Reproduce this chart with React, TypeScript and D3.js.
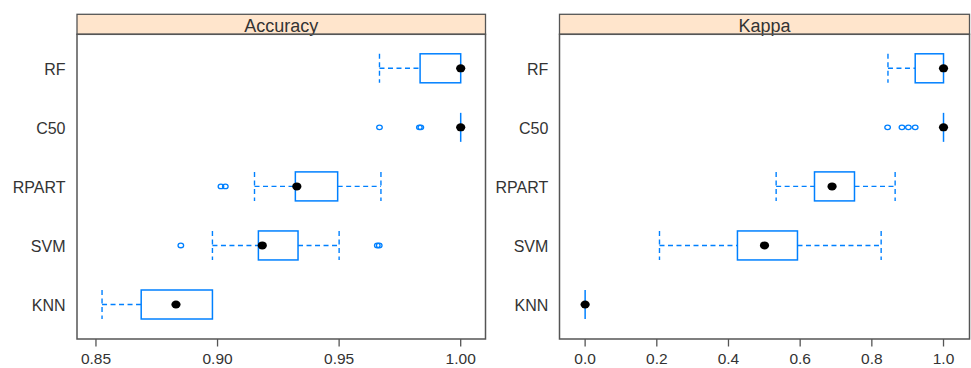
import React from "react";
import * as d3 from "d3";

const models = ["RF", "C50", "RPART", "SVM", "KNN"];

// box stats: [lowerWhisker, q1, median, q3, upperWhisker]
const accuracyStats: number[][] = [
  [0.9666, 0.9833, 1.0, 1.0, 1.0],
  [1.0, 1.0, 1.0, 1.0, 1.0],
  [0.9152, 0.932, 0.9326, 0.9494, 0.9672],
  [0.8979, 0.9168, 0.9184, 0.9331, 0.95],
  [0.8525, 0.8686, 0.8829, 0.8979, 0.8979],
];
const accuracyOutliers: number[][] = [
  [],
  [0.9666, 0.9830, 0.9836],
  [0.9014, 0.9032],
  [0.8849, 0.9657, 0.9665],
  [],
];

const kappaStats: number[][] = [
  [0.845, 0.921, 1.0, 1.0, 1.0],
  [1.0, 1.0, 1.0, 1.0, 1.0],
  [0.533, 0.64, 0.689, 0.7516, 0.865],
  [0.2075, 0.425, 0.5005, 0.5925, 0.826],
  [0.0, 0.0, 0.0, 0.0, 0.0],
];
const kappaOutliers: number[][] = [
  [],
  [0.844, 0.884, 0.902, 0.921],
  [],
  [],
  [],
];

const accuracyTicks = [0.85, 0.9, 0.95, 1.0];
const accuracyTickLabels = ["0.85", "0.90", "0.95", "1.00"];
const kappaTicks = [0, 0.2, 0.4, 0.6, 0.8, 1.0];
const kappaTickLabels = ["0.0", "0.2", "0.4", "0.6", "0.8", "1.0"];

const BLUE = "#0080ff";
const BORDER = "#555";
const TEXT = "#333";
const FONT = "'Liberation Sans', Arial, sans-serif";

type PanelProps = {
  title: string;
  stats: number[][];
  outliers: number[][];
  ticks: number[];
  tickLabels: string[];
  domain: [number, number];
  x0: number;
  x1: number;
  labelX: number;
};

const TOP = 14.3;
const STRIP_BOTTOM = 34.3;
const BOTTOM = 339;
const HALF = 14.5;

function Panel({ title, stats, outliers, ticks, tickLabels, domain, x0, x1, labelX }: PanelProps) {
  const x = d3.scaleLinear().domain(domain).range([x0, x1]);
  const y = d3.scalePoint<string>().domain(models).range([68.3, 304.5]);
  return (
    <g>
      {/* strip */}
      <rect x={x0} y={TOP} width={x1 - x0} height={STRIP_BOTTOM - TOP} fill="#ffe5cc" stroke={BORDER} strokeWidth={1.3} />
      <text x={(x0 + x1) / 2} y={31.5} textAnchor="middle" fontSize={18} fontFamily={FONT} fill={TEXT}>
        {title}
      </text>
      {/* panel */}
      <rect x={x0} y={STRIP_BOTTOM} width={x1 - x0} height={BOTTOM - STRIP_BOTTOM} fill="none" stroke={BORDER} strokeWidth={1.5} />
      {/* y labels */}
      {models.map((m) => (
        <text key={m} x={labelX} y={(y(m) as number) + 6.8} textAnchor="end" fontSize={16} fontFamily={FONT} fill={TEXT}>
          {m}
        </text>
      ))}
      {/* x ticks */}
      {ticks.map((t, i) => (
        <g key={t}>
          <line x1={x(t)} x2={x(t)} y1={BOTTOM} y2={346.5} stroke={BORDER} strokeWidth={1.3} />
          <text x={x(t)} y={364} textAnchor="middle" fontSize={15.5} fontFamily={FONT} fill={TEXT}>
            {tickLabels[i]}
          </text>
        </g>
      ))}
      {/* boxes */}
      {models.map((m, i) => {
        const [lw, q1, med, q3, uw] = stats[i];
        const cy = y(m) as number;
        return (
          <g key={m}>
            {lw < q1 && (
              <>
                <line x1={x(lw)} x2={x(q1)} y1={cy} y2={cy} stroke={BLUE} strokeWidth={1.4} strokeDasharray="5,3.5" />
                <line x1={x(lw)} x2={x(lw)} y1={cy - HALF} y2={cy + HALF} stroke={BLUE} strokeWidth={1.4} strokeDasharray="5,3.5" />
              </>
            )}
            {uw > q3 && (
              <>
                <line x1={x(q3)} x2={x(uw)} y1={cy} y2={cy} stroke={BLUE} strokeWidth={1.4} strokeDasharray="5,3.5" />
                <line x1={x(uw)} x2={x(uw)} y1={cy - HALF} y2={cy + HALF} stroke={BLUE} strokeWidth={1.4} strokeDasharray="5,3.5" />
              </>
            )}
            {q3 > q1 ? (
              <rect x={x(q1)} y={cy - HALF} width={x(q3) - x(q1)} height={2 * HALF} fill="none" stroke={BLUE} strokeWidth={1.5} />
            ) : (
              <line x1={x(q1)} x2={x(q1)} y1={cy - HALF} y2={cy + HALF} stroke={BLUE} strokeWidth={1.5} />
            )}
            {outliers[i].map((o, k) => (
              <ellipse key={k} cx={x(o)} cy={cy} rx={2.8} ry={2.3} fill="none" stroke={BLUE} strokeWidth={1.3} />
            ))}
            <ellipse cx={x(med)} cy={cy} rx={4.6} ry={4} fill="#000" />
          </g>
        );
      })}
    </g>
  );
}

export default function App() {
  return (
    <svg width={971} height={368} style={{ display: "block", position: "absolute", left: 0, top: 0, background: "#fff" }}>
      <rect x={0} y={0} width={971} height={368} fill="#fff" />
      <Panel
        title="Accuracy"
        stats={accuracyStats}
        outliers={accuracyOutliers}
        ticks={accuracyTicks}
        tickLabels={accuracyTickLabels}
        domain={[0.8422, 1.0102]}
        x0={77}
        x1={485.5}
        labelX={65.5}
      />
      <Panel
        title="Kappa"
        stats={kappaStats}
        outliers={kappaOutliers}
        ticks={kappaTicks}
        tickLabels={kappaTickLabels}
        domain={[-0.0715, 1.0725]}
        x0={559.5}
        x1={969.5}
        labelX={548.3}
      />
    </svg>
  );
}
